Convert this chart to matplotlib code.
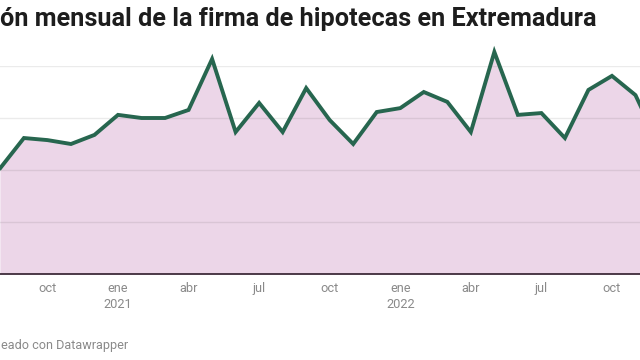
import matplotlib
matplotlib.use("Agg")
import matplotlib.pyplot as plt

# months from ago 2020 to dic 2022 (index 0 = ene 2021)
months = list(range(-5, 24))
firmas = [408, 523, 515, 500, 535,
          612, 600, 600, 631, 827, 546, 658, 546, 715, 592, 500, 623,
          638, 700, 662, 546, 854, 612, 619, 523, 708, 762, 688, 496]

tick_pos = [-3, 0, 3, 6, 9, 12, 15, 18, 21]
tick_labels = ["oct", "ene\n2021", "abr", "jul", "oct", "ene\n2022", "abr", "jul", "oct"]
grid_vals = [200, 400, 600, 800]

# the reference is a crop: only the visible part of title and footer is shown
title = "ón mensual de la firma de hipotecas en Extremadura"
footer = "eado con Datawrapper"

plt.rcParams["font.family"] = ["Roboto", "DejaVu Sans"]

W, H = 640, 360
fig = plt.figure(figsize=(W / 100, H / 100), dpi=100)
fig.patch.set_facecolor("white")

# plot area runs past the right edge of the picture
x0, x1 = 0.4, 659.0
ytop, ybot = 66, 274
ax = fig.add_axes([x0 / W, (H - ybot) / H, (x1 - x0) / W, (ybot - ytop) / H])
ax.set_xlim(months[0], months[-1])
ax.set_ylim(0, 800)

ax.fill_between(months, firmas, 0, color="#ecd6e8", zorder=1, clip_on=False, lw=0)
for g in grid_vals:
    ax.axhline(g, color="#000000", alpha=0.08, lw=1, zorder=2)
ax.plot(months, firmas, color="#27664f", lw=2.8, zorder=4, clip_on=False,
        solid_joinstyle="miter")
ax.axhline(0, color="#3e2b3a", lw=1.3, zorder=5, clip_on=False)

ax.set_xticks(tick_pos)
ax.set_xticklabels(tick_labels, color="#8a8a8a", fontsize=9.2, linespacing=1.3)
ax.tick_params(axis="x", length=0, pad=6)
ax.set_yticks([])
for s in ax.spines.values():
    s.set_visible(False)

fig.text(0, 1 - 19 / H, title, ha="left", va="center",
         fontsize=18.2, fontweight="bold", color="#1d1d1d")
fig.text(1 / W, 1 - 345 / H, footer, ha="left", va="center",
         fontsize=9.1, color="#8a8a8a")

fig.savefig("out.png", dpi=100)
